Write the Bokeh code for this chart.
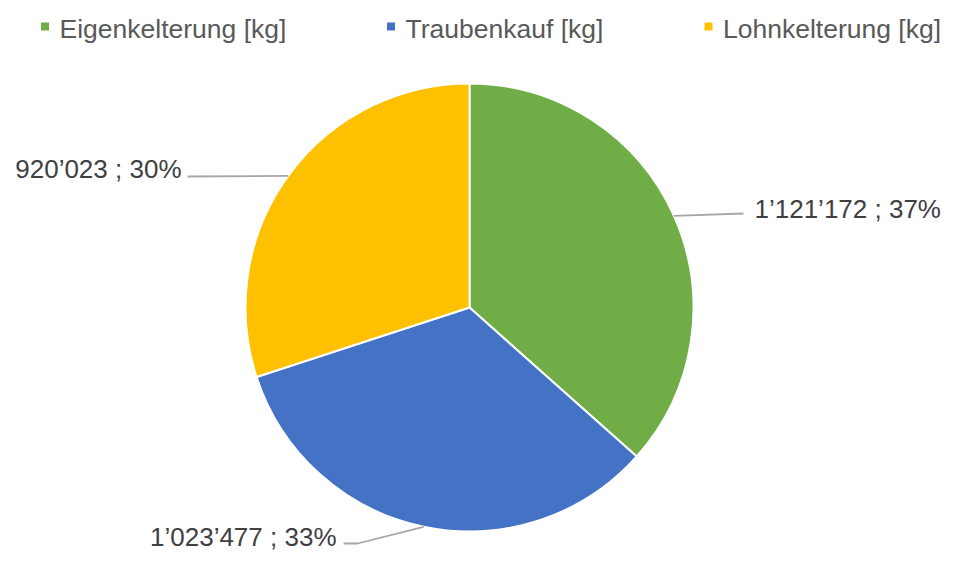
import numpy as np
from bokeh.plotting import figure
from bokeh.models import Range1d, ColumnDataSource
from bokeh.core.properties import value
from bokeh.embed import file_html
from bokeh.resources import INLINE

# ---- data ----
categories = ["Eigenkelterung [kg]", "Traubenkauf [kg]", "Lohnkelterung [kg]"]
kg_values = [1121172, 1023477, 920023]
colors = ["#70AD47", "#4472C4", "#FFC000"]

# ---- layout ----
W, H = 941, 552
FONT = "Liberation Sans"
LABEL_COLOR = "#404040"
LEGEND_COLOR = "#595959"
LEADER_COLOR = "#A6A6A6"
TEXT_SHIFT = 9  # svg text renders lower than the nominal baseline


def px(x):
    return x


def py(y):
    return H - y


p = figure(width=W, height=H, x_range=Range1d(0, W), y_range=Range1d(0, H),
           output_backend="svg", toolbar_location=None, min_border=0)
p.axis.visible = False
p.grid.visible = False
p.outline_line_color = None
p.background_fill_color = "white"
p.border_fill_color = "white"

cx, cy, r = px(469), py(307), 224

fracs = np.array(kg_values, dtype=float) / sum(kg_values)
cum = np.cumsum(fracs)
start = np.pi / 2 - np.concatenate([[0.0], cum[:-1]]) * 2 * np.pi
end = np.pi / 2 - cum * 2 * np.pi
mid = (start + end) / 2

src = ColumnDataSource(dict(start=end, end=start, color=colors, cat=categories))
p.wedge(x=cx, y=cy, radius=r, start_angle="start", end_angle="end",
        direction="anticlock", fill_color="color", line_color="white",
        line_width=2, source=src)

# data labels
def fmt(v):
    return f"{v:,}".replace(",", "\u2019")

labels = [f"{fmt(v)} ; {round(f * 100)}%" for v, f in zip(kg_values, fracs)]

# per-slice label layout: (text x, baseline y, align, leader path points after edge)
label_layout = [
    (754, 217, "left", [(743, 213)]),
    (336, 545, "right", [(357, 543), (343, 543)]),
    (181, 177, "right", [(187, 176)]),
]

xs, ys = [], []
for i, (tx, ty, align, path) in enumerate(label_layout):
    ex = cx + r * np.cos(mid[i])
    ey = cy + r * np.sin(mid[i])
    xs.append([ex] + [px(a) for a, b in path])
    ys.append([ey] + [py(b) for a, b in path])
    p.text(x=[px(tx)], y=[py(ty - TEXT_SHIFT)], text=[labels[i]], text_align=align,
           text_baseline="alphabetic", text_font=value(FONT),
           text_font_size="26px", text_color=LABEL_COLOR)

p.multi_line(xs=xs, ys=ys, line_color=LEADER_COLOR, line_width=1.8)

# legend
legend_sq_x = [44.5, 390.5, 708]
legend_y = 26
for i, cat in enumerate(categories):
    p.rect(x=[px(legend_sq_x[i])], y=[py(legend_y)], width=8, height=8,
           fill_color=colors[i], line_color=None)
    p.text(x=[px(legend_sq_x[i] + 14.5)], y=[py(37 - TEXT_SHIFT)], text=[cat],
           text_align="left", text_baseline="alphabetic", text_font=value(FONT),
           text_font_size="26.5px", text_color=LEGEND_COLOR)

open("out.html", "w").write(file_html(p, INLINE))
